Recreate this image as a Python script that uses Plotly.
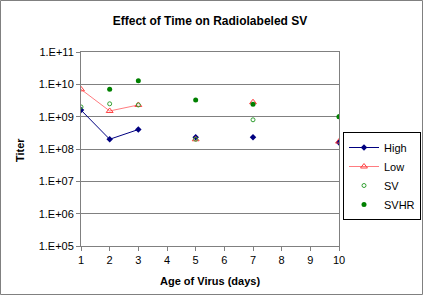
import plotly.graph_objects as go

days = [1, 2, 3, 4, 5, 6, 7, 8, 9, 10]
high = [1.6e9, 2.0e8, 4.0e8, None, 2.3e8, None, 2.3e8, None, None, 1.6e8]
low = [7.0e9, 1.5e9, 2.3e9, None, 2.0e8, None, 2.8e9, None, None, 1.7e8]
sv = [2.0e9, 2.5e9, 2.3e9, None, 2.0e8, None, 8.0e8, None, None, 1.0e9]
svhr = [None, 7.0e9, 1.3e10, None, 3.3e9, None, 2.4e9, None, None, 1.0e9]

ytick_vals = [1e5, 1e6, 1e7, 1e8, 1e9, 1e10, 1e11]
ytick_text = ["1.E+05", "1.E+06", "1.E+07", "1.E+08", "1.E+09", "1.E+10", "1.E+11"]

FONT = "Liberation Sans, Arial, sans-serif"

fig = go.Figure()
fig.add_trace(go.Scatter(x=days, y=high, name="High", mode="lines+markers",
                         line=dict(color="#000080", width=1),
                         marker=dict(symbol="diamond", size=5, color="#000080"),
                         connectgaps=False))
fig.add_trace(go.Scatter(x=days, y=low, name="Low", mode="lines+markers",
                         line=dict(color="#FF7C80", width=1),
                         marker=dict(symbol="triangle-up-open", size=6, color="#FF4040",
                                     line=dict(width=1)),
                         connectgaps=False))
fig.add_trace(go.Scatter(x=days, y=sv, name="SV", mode="markers",
                         marker=dict(symbol="circle-open", size=4, color="#33A033",
                                     line=dict(width=1))))
fig.add_trace(go.Scatter(x=days, y=svhr, name="SVHR", mode="markers",
                         marker=dict(symbol="circle", size=5, color="#008000")))

W, H = 423, 295
L, R, T, B = 81, 84, 52, 49
pw, ph = W - L - R, H - T - B

fig.update_layout(
    width=W, height=H,
    margin=dict(l=L, r=R, t=T, b=B, pad=0, autoexpand=False),
    paper_bgcolor="white", plot_bgcolor="white",
    font=dict(family=FONT, size=11, color="black"),
    title=dict(text="<b>Effect of Time on Radiolabeled SV</b>", x=0.5, xref="paper",
               xanchor="center", y=1 - 21 / H, yanchor="middle",
               font=dict(size=12, family=FONT)),
    showlegend=True,
    legend=dict(x=(343 - L) / pw, y=1 - (132 - T) / ph, xanchor="left", yanchor="top",
                bordercolor="black", borderwidth=1, bgcolor="white",
                font=dict(size=11, family=FONT), tracegroupgap=0,
                itemwidth=30),
    xaxis=dict(range=[1, 10], tickvals=days, ticks="outside", ticklen=4,
               tickcolor="#808080", showgrid=False, zeroline=False,
               showline=True, linecolor="#808080", linewidth=1, mirror=True,
               tickfont=dict(size=11)),
    yaxis=dict(type="log", range=[5, 11], tickvals=ytick_vals, ticktext=ytick_text,
               ticks="outside", ticklen=4, tickcolor="#808080",
               showgrid=True, gridcolor="#808080", gridwidth=1, zeroline=False,
               showline=True, linecolor="#808080", linewidth=1, mirror=True,
               tickfont=dict(size=11)),
    annotations=[
        dict(text="<b>Age of Virus (days)</b>", x=0.5, xref="paper",
             y=1 - (281 - T) / ph, yref="paper", showarrow=False,
             xanchor="center", yanchor="middle", font=dict(size=11)),
        dict(text="<b>Titer</b>", x=-(L - 20) / pw, xref="paper",
             y=1 - (150 - T) / ph, yref="paper", showarrow=False, textangle=-90,
             xanchor="center", yanchor="middle", font=dict(size=11)),
    ],
    shapes=[
        dict(type="rect", xref="paper", yref="paper",
             x0=-(L - 0.5) / pw, x1=1 + (R - 0.5) / pw,
             y0=-(B - 0.5) / ph, y1=1 + (T - 0.5) / ph,
             line=dict(color="#808080", width=1), layer="below"),
    ],
)

fig.write_html("out.html")
